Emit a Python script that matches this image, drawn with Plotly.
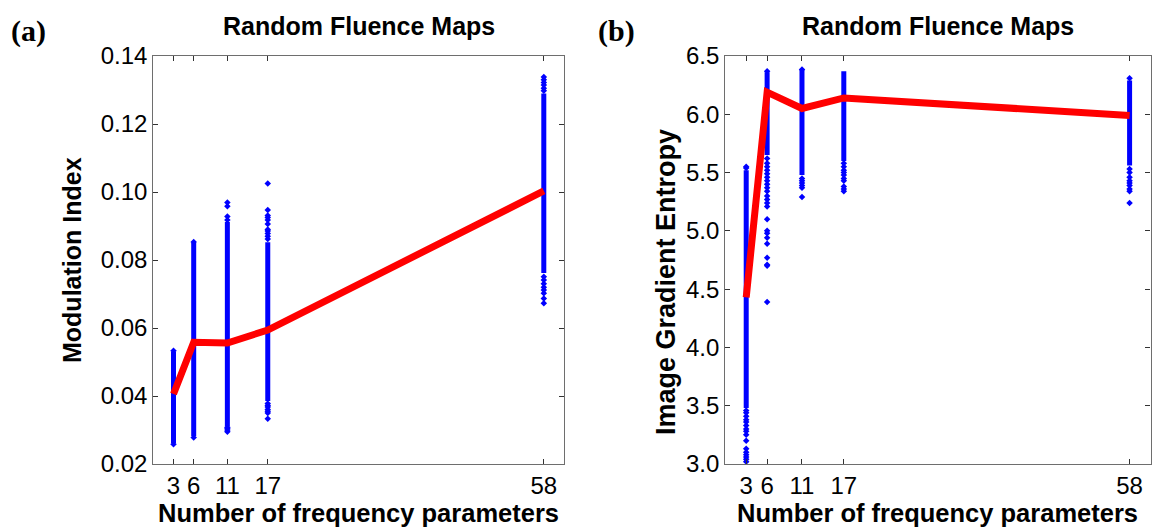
import plotly.graph_objects as go

# ---------------- data ----------------
categories = [3, 6, 11, 17, 58]
tick_labels = ["3", "6", "11", "17", "58"]

# (a) Modulation Index
mi_mean = [0.0406, 0.0558, 0.0556, 0.0594, 0.1003]
mi_dense_lo = [0.0262, 0.0282, 0.0312, 0.0385, 0.0762]
mi_dense_hi = [0.0530, 0.0850, 0.0912, 0.0852, 0.1290]
mi_pts_3 = [0.0258, 0.0533]
mi_pts_6 = [0.0278, 0.0853]
mi_pts_11 = [0.0295, 0.0300, 0.0305, 0.0308, 0.0918, 0.0928, 0.0958, 0.0969]
mi_pts_17 = [0.0333, 0.0350, 0.0355, 0.0360, 0.0368, 0.0372, 0.0378,
             0.0862, 0.0870, 0.0878, 0.0885, 0.0890, 0.0906, 0.0918,
             0.0925, 0.0931, 0.0947, 0.1025]
mi_pts_58 = [0.1298, 0.1305, 0.1315, 0.1322, 0.1330, 0.1338,
             0.0751, 0.0741, 0.0730, 0.0720, 0.0712, 0.0702, 0.0687, 0.0673]

# (b) Image Gradient Entropy
ige_mean = [4.43, 6.19, 6.05, 6.14, 5.99]
ige_dense_lo = [3.48, 5.65, 5.48, 5.60, 5.56]
ige_dense_hi = [5.52, 6.36, 6.38, 6.37, 6.29]
ige_pts_3 = [3.02, 3.04, 3.06, 3.08, 3.10, 3.13, 3.20, 3.25, 3.28, 3.30,
             3.33, 3.36, 3.38, 3.41, 3.44, 3.46, 5.54, 5.55]
ige_pts_6 = [6.37, 5.62, 5.58, 5.55, 5.52, 5.49, 5.46, 5.43, 5.40, 5.37,
             5.34, 5.30, 5.27, 5.24, 5.21, 5.10, 5.00, 4.98, 4.94, 4.89,
             4.77, 4.71, 4.70, 4.39]
ige_pts_11 = [6.385, 5.45, 5.43, 5.41, 5.39, 5.37, 5.29]
ige_pts_17 = [5.58, 5.55, 5.52, 5.50, 5.48, 5.45, 5.43, 5.38, 5.36, 5.34]
ige_pts_58 = [6.31, 5.53, 5.50, 5.46, 5.43, 5.41, 5.39, 5.36, 5.34, 5.24]

BLUE = "#0000ff"
RED = "#ff0000"
W, H = 1152, 529

fig = go.Figure()


def add_panel(xa, ya, lo, hi, pts_lists, mean):
    bx, by = [], []
    for c, a, b in zip(categories, lo, hi):
        bx += [c, c, None]
        by += [a, b, None]
    fig.add_trace(go.Scatter(x=bx, y=by, mode="lines", xaxis=xa, yaxis=ya,
                             line=dict(color=BLUE, width=5), showlegend=False,
                             hoverinfo="skip"))
    px, py = [], []
    for c, pts in zip(categories, pts_lists):
        px += [c] * len(pts)
        py += pts
    fig.add_trace(go.Scatter(x=px, y=py, mode="markers", xaxis=xa, yaxis=ya,
                             marker=dict(color=BLUE, size=5, symbol="diamond",
                                         line=dict(width=0)),
                             showlegend=False))
    fig.add_trace(go.Scatter(x=categories, y=mean, mode="lines", xaxis=xa,
                             yaxis=ya, line=dict(color=RED, width=7),
                             showlegend=False))


add_panel("x", "y", mi_dense_lo, mi_dense_hi,
          [mi_pts_3, mi_pts_6, mi_pts_11, mi_pts_17, mi_pts_58], mi_mean)
add_panel("x2", "y2", ige_dense_lo, ige_dense_hi,
          [ige_pts_3, ige_pts_6, ige_pts_11, ige_pts_17, ige_pts_58], ige_mean)

TICKFONT = dict(family="Liberation Sans, Arial", size=24, color="#000")
ax_common = dict(showline=True, linecolor="#6e6e6e", linewidth=1.3,
                 mirror="allticks", ticks="inside", ticklen=5,
                 tickcolor="#333", tickwidth=1, showgrid=False,
                 zeroline=False, tickfont=TICKFONT, automargin=False)

yb, yt = 1 - 464 / H, 1 - 56 / H
L1, R1 = 153.3 / W, 564.0 / W
L2, R2 = 725.3 / W, 1150.5 / W

fig.update_layout(
    width=W, height=H,
    margin=dict(l=0, r=0, t=0, b=0, pad=0, autoexpand=False),
    paper_bgcolor="white", plot_bgcolor="white",
    xaxis=dict(domain=[L1, R1], range=[0, 61], tickvals=categories,
               ticktext=tick_labels, anchor="y", ticklabelstandoff=0,
               **ax_common),
    yaxis=dict(domain=[yb, yt], range=[0.02, 0.14], dtick=0.02,
               tick0=0.02, tickformat=".2f", anchor="x", **ax_common),
    xaxis2=dict(domain=[L2, R2], range=[0, 61], tickvals=categories,
                ticktext=tick_labels, anchor="y2", ticklabelstandoff=0,
                **ax_common),
    yaxis2=dict(domain=[yb, yt], range=[3.0, 6.5], dtick=0.5, tick0=3.0,
                tickformat=".1f", anchor="x2", **ax_common),
)

TF = dict(family="Liberation Sans, Arial", size=25, color="#000")
TFX = dict(family="Liberation Sans, Arial", size=25.5, color="#000")
TFY2 = dict(family="Liberation Sans, Arial", size=27, color="#000")
ann = []
for (l, r) in [(L1, R1), (L2, R2)]:
    cx = (l + r) / 2
    ann.append(dict(text="<b>Random Fluence Maps</b>", x=cx, y=1 - 26 / H,
                    xref="paper", yref="paper", showarrow=False, font=TF,
                    xanchor="center", yanchor="middle"))
    ann.append(dict(text="<b>Number of frequency parameters</b>", x=cx,
                    y=1 - 513 / H, xref="paper", yref="paper",
                    showarrow=False, font=TFX, xanchor="center",
                    yanchor="middle"))
ann.append(dict(text="<b>Modulation Index</b>", x=72 / W, y=1 - 260 / H,
                xref="paper", yref="paper", showarrow=False, font=TF,
                textangle=-90, xanchor="center", yanchor="middle"))
ann.append(dict(text="<b>Image Gradient Entropy</b>", x=666 / W,
                y=1 - 282 / H, xref="paper", yref="paper", showarrow=False,
                font=TFY2, textangle=-90, xanchor="center", yanchor="middle"))
PF = dict(family="Liberation Serif", size=30, color="#000")
ann.append(dict(text="<b>(a)</b>", x=28 / W, y=1 - 31 / H, xref="paper",
                yref="paper", showarrow=False, font=PF, xanchor="center",
                yanchor="middle"))
ann.append(dict(text="<b>(b)</b>", x=616 / W, y=1 - 31 / H, xref="paper",
                yref="paper", showarrow=False, font=PF, xanchor="center",
                yanchor="middle"))
fig.update_layout(annotations=ann)

fig.write_html("out.html")
